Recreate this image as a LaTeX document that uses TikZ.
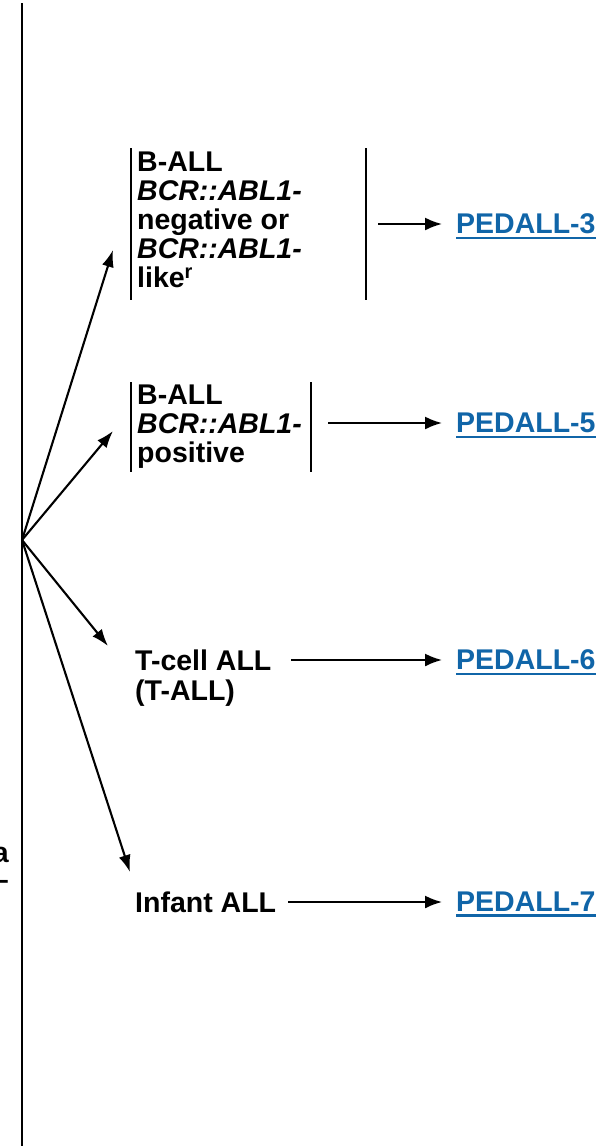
\documentclass[tikz,border=0pt]{standalone}
\usepackage{fontspec}
\setmainfont{Liberation Sans}
\usetikzlibrary{arrows.meta}
\definecolor{pedblue}{RGB}{16,101,168}
\begin{document}
\begin{tikzpicture}[x=1pt,y=-1pt,
  txt/.style={font=\fontsize{28.5}{29}\selectfont\bfseries, align=left, inner sep=0pt, text=black},
  link/.style={font=\fontsize{28.5}{29}\selectfont\bfseries, inner sep=0pt, text=pedblue, anchor=west},
  uline/.style={line width=2.2pt, pedblue},
  bar/.style={line width=2.4pt, black},
  arr/.style={line width=1.9pt, black, -{Latex[length=17pt,width=13pt]}},
  fan/.style={line width=2.1pt, black, -{Latex[length=17pt,width=12pt]}}]
\useasboundingbox (0,0) rectangle (613,1146);
% main vertical line
\draw[bar] (22,3) -- (22,1146);
% cut-off text at left edge
\node[txt, anchor=base east] (cuta) at (9,862) {a};
\node[txt, anchor=base east] (cutd) at (9,889) {–};
% fan origin
\coordinate (O) at (22,540);
% box 1
\node[txt, anchor=north west] (b1) at (137,152) {B-ALL\\\textit{BCR::ABL1-}\\negative or\\\textit{BCR::ABL1-}\\like\textsuperscript{r}};
\draw[bar] (131,148) -- (131,300);
\draw[bar] (366,148) -- (366,300);
\coordinate (t1) at (113,250);
\coordinate (h1) at (378,224);
\node[link] (p3) at (456,224) {PEDALL-3};
% box 2
\node[txt, anchor=north west] (b2) at (137,385) {B-ALL\\\textit{BCR::ABL1-}\\positive};
\draw[bar] (131,382) -- (131,472);
\draw[bar] (311,382) -- (311,472);
\coordinate (t2) at (113,431);
\coordinate (h2) at (328,423);
\node[link] (p5) at (456,423) {PEDALL-5};
% T-ALL
\node[txt, anchor=north west, font=\fontsize{28.5}{30}\selectfont\bfseries] (tc) at (135,650) {T-cell ALL\\(T-ALL)};
\coordinate (t3) at (108,646);
\coordinate (h3) at (291,660);
\node[link] (p6) at (456,660) {PEDALL-6};
% Infant
\node[txt, anchor=west] (inf) at (135,902) {Infant ALL};
\coordinate (t4) at (130,872);
\node[link] (p7) at (456,902) {PEDALL-7};
% underlines of links
\foreach \p in {p3,p5,p6,p7}
  \draw[uline] ([yshift=-3.5pt]\p.south west) -- ([yshift=-3.5pt]\p.south east);
% fan arrows
\draw[fan] (O) -- (t1);
\draw[fan] (O) -- (t2);
\draw[fan] (O) -- (t3);
\draw[fan] (O) -- (t4);
% horizontal arrows
\draw[arr] (h1) -- ([xshift=-14pt]p3.west);
\draw[arr] (h2) -- ([xshift=-14pt]p5.west);
\draw[arr] (h3) -- ([xshift=-14pt]p6.west);
\draw[arr] ([xshift=12pt]inf.east) -- ([xshift=-14pt]p7.west);
\end{tikzpicture}
\end{document}
